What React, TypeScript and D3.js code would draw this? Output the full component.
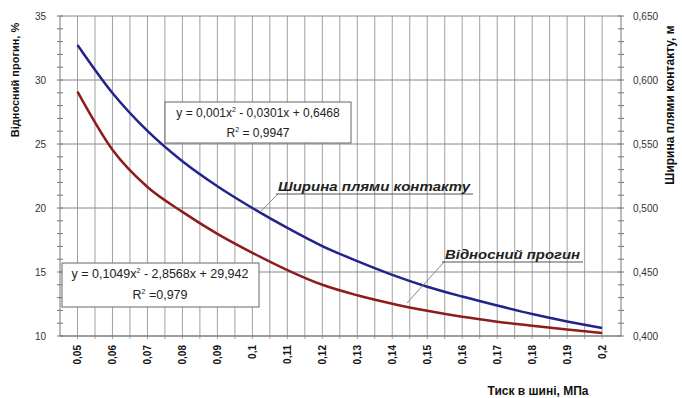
import React from "react";
import * as d3 from "d3";

const pressure = [0.05, 0.06, 0.07, 0.08, 0.09, 0.1, 0.11, 0.12, 0.13, 0.14, 0.15, 0.16, 0.17, 0.18, 0.19, 0.2];
const deflection = [29.09, 24.55, 21.64, 19.7, 17.98, 16.5, 15.15, 14.0, 13.18, 12.52, 11.97, 11.5, 11.12, 10.8, 10.5, 10.23];
const contactWidth = [0.6273, 0.5898, 0.5602, 0.5365, 0.517, 0.5, 0.4845, 0.4703, 0.4585, 0.4478, 0.4385, 0.4308, 0.4238, 0.4172, 0.4114, 0.4063];
const xTickLabels = ["0,05", "0,06", "0,07", "0,08", "0,09", "0,1", "0,11", "0,12", "0,13", "0,14", "0,15", "0,16", "0,17", "0,18", "0,19", "0,2"];
const leftTicks = [10, 15, 20, 25, 30, 35];
const rightTicks = [0.4, 0.45, 0.5, 0.55, 0.6, 0.65];
const rightTickLabels = ["0,400", "0,450", "0,500", "0,550", "0,600", "0,650"];

const W = 682, H = 398;
const L = 60, R = 621, T = 16, B = 336;
const FONT = "'Liberation Sans', Arial, sans-serif";

export default function App() {
  const x = d3.scaleLinear().domain([0.045, 0.2054]).range([L, R]);
  const yL = d3.scaleLinear().domain([10, 35]).range([B, T]);
  const yR = d3.scaleLinear().domain([0.4, 0.65]).range([B, T]);

  const vGrid = d3.range(31).map((i) => 0.05 + i * 0.005);
  const leftMinor = d3.range(10, 35.001, 1);
  const rightMinor = d3.range(0, 26).map((i) => 0.4 + i * 0.01);

  const redLine = d3.line<number>().x((_, i) => x(pressure[i])).y((d) => yL(d)).curve(d3.curveMonotoneX);
  const blueLine = d3.line<number>().x((_, i) => x(pressure[i])).y((d) => yR(d)).curve(d3.curveMonotoneX);

  return (
    <div style={{ position: "absolute", left: 0, top: 0 }}>
      <svg width={W} height={H} style={{ display: "block", background: "#fff" }} fontFamily={FONT}>
        <rect x={0} y={0} width={W} height={H} fill="#fff" />
        {vGrid.map((v, i) => (
          <line key={"vg" + i} x1={x(v)} x2={x(v)} y1={T} y2={B + 3} stroke="#a0a0a0" strokeWidth={1} />
        ))}
        {leftTicks.map((v) => (
          <line key={"hg" + v} x1={L} x2={R} y1={yL(v)} y2={yL(v)} stroke="#888" strokeWidth={1} />
        ))}
        <line x1={L} x2={L} y1={T} y2={B} stroke="#777" strokeWidth={1} />
        <line x1={R} x2={R} y1={T} y2={B} stroke="#777" strokeWidth={1} />
        <line x1={L} x2={R} y1={B} y2={B} stroke="#777" strokeWidth={1} />
        {leftMinor.map((v) => (
          <line key={"lm" + v} x1={L - 3} x2={L + 3} y1={yL(v)} y2={yL(v)} stroke="#777" />
        ))}
        {rightMinor.map((v, i) => (
          <line key={"rm" + i} x1={R - 3} x2={R + 3} y1={yR(v)} y2={yR(v)} stroke="#777" />
        ))}
        {leftTicks.map((v) => (
          <text key={"lt" + v} x={46} y={yL(v) + 3.5} fontSize={10} textAnchor="end" fill="#333">
            {v}
          </text>
        ))}
        {rightTicks.map((v, i) => (
          <text key={"rt" + i} x={633} y={yR(v) + 3.5} fontSize={10} textAnchor="start" fill="#333">
            {rightTickLabels[i]}
          </text>
        ))}
        {pressure.map((p, i) => (
          <text
            key={"xt" + i}
            transform={`translate(${x(p) + 3.5},${345}) rotate(-90)`}
            fontSize={10}
            fontWeight="bold"
            textAnchor="end"
            fill="#111"
          >
            {xTickLabels[i]}
          </text>
        ))}
        <path d={blueLine(contactWidth) || ""} fill="none" stroke="#23238c" strokeWidth={2.5} />
        <path d={redLine(deflection) || ""} fill="none" stroke="#8e1c1c" strokeWidth={2.5} />

        <rect x={165} y={102} width={186} height={41} fill="#fff" stroke="#666" strokeWidth={1} />
        <text x={258} y={117} fontSize={12} textAnchor="middle" fill="#222">
          y = 0,001x<tspan dy={-5} fontSize={7}>2</tspan><tspan dy={5}> - 0,0301x + 0,6468</tspan>
        </text>
        <text x={258} y={137} fontSize={12} textAnchor="middle" fill="#222">
          R<tspan dy={-5} fontSize={7}>2</tspan><tspan dy={5}> = 0,9947</tspan>
        </text>

        <rect x={62} y={263} width={197} height={44} fill="#fff" stroke="#666" strokeWidth={1} />
        <text x={160} y={278} fontSize={12.5} textAnchor="middle" fill="#222">
          y = 0,1049x<tspan dy={-5} fontSize={7}>2</tspan><tspan dy={5}> - 2,8568x + 29,942</tspan>
        </text>
        <text x={160} y={299} fontSize={12.5} textAnchor="middle" fill="#222">
          R<tspan dy={-5} fontSize={7}>2</tspan><tspan dy={5}> =0,979</tspan>
        </text>

        <line x1={260} y1={212} x2={278} y2={194} stroke="#888" strokeWidth={1} />
        <line x1={276} y1={194} x2={473} y2={194} stroke="#555" strokeWidth={1} />
        <text x={278} y={191} fontSize={12.5} fontWeight="bold" fontStyle="italic" fill="#222" textLength={192} lengthAdjust="spacingAndGlyphs">
          Ширина плями контакту
        </text>
        <line x1={407} y1={303} x2={444} y2={262} stroke="#888" strokeWidth={1} />
        <line x1={442} y1={262} x2={583} y2={262} stroke="#555" strokeWidth={1} />
        <text x={445} y={259} fontSize={12.5} fontWeight="bold" fontStyle="italic" fill="#222" textLength={135} lengthAdjust="spacingAndGlyphs">
          Відносний прогин
        </text>

        <text transform={`translate(19,80) rotate(-90)`} fontSize={11} fontWeight="bold" textAnchor="middle" fill="#111">
          Відносний прогин, %
        </text>
        <text transform={`translate(674,105) rotate(-90)`} fontSize={12} fontWeight="bold" textAnchor="middle" fill="#111">
          Ширина плями контакту, м
        </text>
        <text x={538} y={395} fontSize={12} fontWeight="bold" textAnchor="middle" fill="#111">
          Тиск в шині, МПа
        </text>
      </svg>
    </div>
  );
}
